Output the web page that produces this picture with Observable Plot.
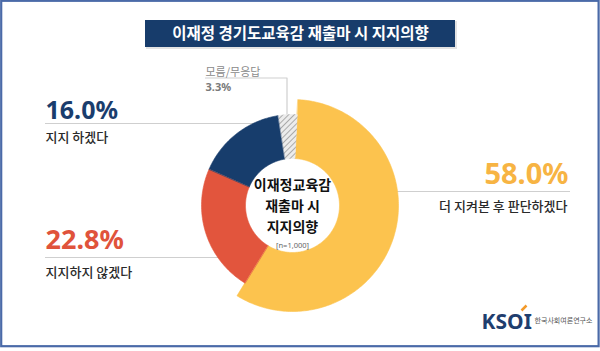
<!DOCTYPE html>
<html>
<head>
<meta charset="utf-8">
<script src="https://cdn.jsdelivr.net/npm/d3@7"></script>
<script src="https://cdn.jsdelivr.net/npm/@observablehq/plot@0.6"></script>
<style>
  html, body { margin: 0; padding: 0; background: #fff; }
  #chart { width: 600px; height: 351px; }
</style>
</head>
<body>
<div id="chart"></div>
<script>
// ---- data ----
const title = "이재정 경기도교육감 재출마 시 지지의향";
const categories = ["더 지켜본 후 판단하겠다", "지지하지 않겠다", "지지 하겠다", "모름/무응답"];
const values = [58.0, 22.8, 16.0, 3.3];
const valueLabels = ["58.0%", "22.8%", "16.0%", "3.3%"];
const centerLines = ["이재정교육감", "재출마 시", "지지의향"];
const sampleNote = "[n=1,000]";
const logoText = "KSOI";
const logoSub = "한국사회여론연구소";

// ---- layout / style ----
const W = 600, H = 351;
const cx = 292, cy = 205, rIn = 47, rOut = 91, rOutMain = 106;
const rot = 3 * Math.PI / 180;
const sliceColors = ["#fcc34e", "#e2553d", "#173d6c", "url(#hatch)"];
const KR = "'Noto Sans CJK KR', 'Noto Sans', sans-serif";
const NUM = "'Noto Sans', 'Noto Sans CJK KR', sans-serif";

// build ring polygons from the values
const total = d3.sum(values);
let acc = 0;
const arcRows = [];
categories.forEach((c, i) => {
  const a0 = rot + acc / total * 2 * Math.PI;
  acc += values[i];
  const a1 = rot + acc / total * 2 * Math.PI;
  const ro = i === 0 ? rOutMain : rOut;
  const n = Math.max(2, Math.ceil((a1 - a0) / (Math.PI / 180)));
  for (let k = 0; k <= n; k++) {
    const a = a0 + (a1 - a0) * k / n;
    arcRows.push({category: c, x: cx + ro * Math.sin(a), y: cy - ro * Math.cos(a)});
  }
  for (let k = n; k >= 0; k--) {
    const a = a0 + (a1 - a0) * k / n;
    arcRows.push({category: c, x: cx + rIn * Math.sin(a), y: cy - rIn * Math.cos(a)});
  }
});

const bigLeft = [
  {label: valueLabels[2], x: 45, y: 118, size: 25, color: "#1a3d6d"},
  {label: valueLabels[1], x: 45, y: 248, size: 27, color: "#e0533b"}
];
const bigRight = [
  {label: valueLabels[0], x: 568, y: 183, size: 29, color: "#f7b443"}
];
const smallLeft = [
  {label: categories[2], x: 45, y: 141},
  {label: categories[1], x: 45, y: 276}
];
const smallRight = [
  {label: categories[0], x: 567, y: 210}
];

const svg = Plot.plot({
  width: W, height: H,
  margin: 0,
  x: {domain: [0, W], range: [0, W], axis: null},
  y: {domain: [0, H], range: [0, H], axis: null},
  color: {domain: categories, range: sliceColors},
  marks: [
    // frame
    Plot.rect([0], {x1: 1.2, x2: 598.6, y1: 0.8, y2: 346.2, fill: "none", stroke: "#4a6aa8", strokeWidth: 2.2}),
    // title box
    Plot.rect([0], {x1: 146, x2: 457, y1: 21, y2: 49, fill: "#e3e3e3"}),
    Plot.rect([0], {x1: 145, x2: 455, y1: 20, y2: 47, fill: "#173c6b"}),
    Plot.text([title], {x: 300, y: 34, text: d => d, fill: "#fff", fontSize: 15.5, fontWeight: "bold", fontFamily: KR, lineAnchor: "middle"}),
    // leader lines
    Plot.ruleY([123], {x1: 45, x2: 292, stroke: "#cfcfcf", strokeWidth: 1.2}),
    Plot.ruleY([257], {x1: 45, x2: 292, stroke: "#cfcfcf", strokeWidth: 1.2}),
    Plot.ruleY([191], {x1: 345, x2: 570, stroke: "#cfcfcf", strokeWidth: 1.2}),
    Plot.line([[205, 77.5], [286.5, 77.5], [286.5, 125]], {stroke: "#cfcfcf", strokeWidth: 1.2}),
    // donut
    Plot.line(arcRows, {x: "x", y: "y", z: "category", fill: "category", stroke: "category", strokeWidth: 0.6, curve: "linear-closed"}),
    // center text
    Plot.text(centerLines, {x: cx, y: (d, i) => [185, 206, 227][i], text: d => d, fontSize: 14, fontWeight: "bold", fontFamily: KR, fill: "#111", lineAnchor: "middle"}),
    Plot.text([sampleNote], {x: cx, y: 245, text: d => d, fontSize: 7.5, fontFamily: NUM, fill: "#666", lineAnchor: "middle"}),
    // big percentages
    Plot.text(bigLeft, {x: "x", y: "y", text: "label", fill: "color", fontSize: d => d.size, textAnchor: "start", fontWeight: "bold", fontFamily: NUM, lineAnchor: "bottom"}),
    Plot.text(bigRight, {x: "x", y: "y", text: "label", fill: "color", fontSize: d => d.size, textAnchor: "end", fontWeight: "bold", fontFamily: NUM, lineAnchor: "bottom"}),
    // category labels
    Plot.text(smallLeft, {x: "x", y: "y", text: "label", fill: "#2a2a2a", fontSize: 13, fontWeight: 500, fontFamily: KR, textAnchor: "start", lineAnchor: "bottom"}),
    Plot.text(smallRight, {x: "x", y: "y", text: "label", fill: "#2a2a2a", fontSize: 13, fontWeight: 500, fontFamily: KR, textAnchor: "end", lineAnchor: "bottom"}),
    // no answer callout
    Plot.text([categories[3]], {x: 205, y: 75, text: d => d, fill: "#8a8a8a", fontSize: 11, fontFamily: KR, textAnchor: "start", lineAnchor: "bottom"}),
    Plot.text([valueLabels[3]], {x: 205, y: 90, text: d => d, fill: "#7a7a7a", fontSize: 11, fontWeight: "bold", fontFamily: NUM, textAnchor: "start", lineAnchor: "bottom"}),
    // logo
    Plot.text([logoText], {x: 481, y: 328, text: d => d, fill: "#1f3e6e", fontSize: 21, fontWeight: "bold", fontFamily: NUM, textAnchor: "start", lineAnchor: "bottom"}),
    Plot.link([0], {x1: 521, y1: 310, x2: 526, y2: 305, stroke: "#f39a2a", strokeWidth: 2.5}),
    Plot.text([logoSub], {x: 534, y: 322, text: d => d, fill: "#555", fontSize: 7, fontFamily: KR, textAnchor: "start", lineAnchor: "bottom"})
  ]
});

// hatch pattern
const defs = d3.select(svg).insert("defs", ":first-child");
const pat = defs.append("pattern").attr("id", "hatch").attr("width", 4).attr("height", 4)
  .attr("patternUnits", "userSpaceOnUse").attr("patternTransform", "rotate(45)");
pat.append("rect").attr("width", 4).attr("height", 4).attr("fill", "#ececec");
pat.append("line").attr("x1", 0).attr("y1", 0).attr("x2", 0).attr("y2", 4).attr("stroke", "#9a9a9a").attr("stroke-width", 1.6);

document.getElementById("chart").appendChild(svg);
</script>
</body>
</html>
